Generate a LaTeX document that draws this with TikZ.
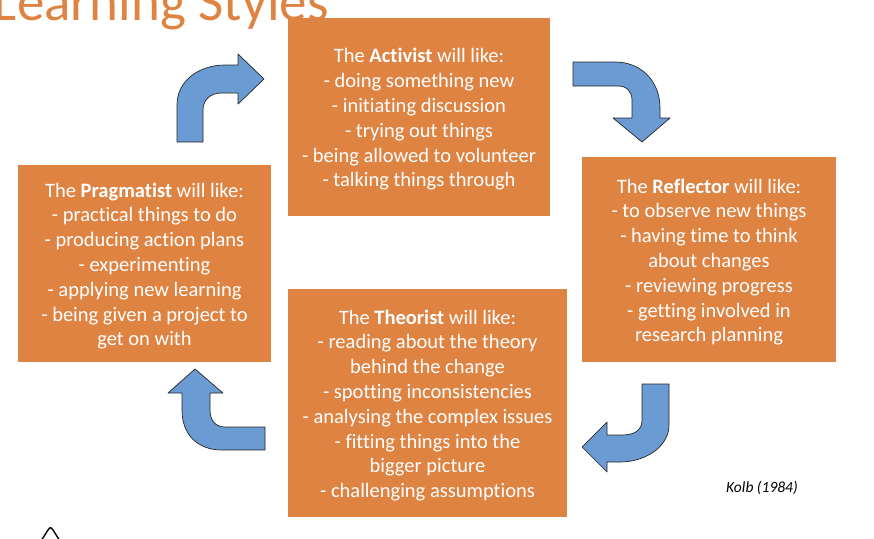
\documentclass[tikz,border=0pt]{standalone}
\usepackage{fontspec}
\setmainfont[Ligatures=NoCommon]{Carlito}
\definecolor{boxorange}{RGB}{223,131,67}
\definecolor{arrowblue}{RGB}{106,155,211}
\begin{document}
\begin{tikzpicture}[x=1pt,y=-1pt,
  box/.style={fill=boxorange, draw=none, inner sep=0pt},
  boxtext/.style={inner sep=0pt, text=white, align=center,
    font=\fontsize{20.5}{24.8}\selectfont},
  bluearrow/.style={fill=arrowblue, draw=black!85, line width=0.7pt, line join=round}]
\useasboundingbox (0,0) rectangle (874,538);
% title
\node[anchor=base east, text=boxorange, inner sep=0pt, font=\fontsize{55}{55}\selectfont] (title) at (329,20) {Learning Styles};
% boxes
\node[box, minimum width=262pt, minimum height=198pt] (act) at (419,117) {};
\node[box, minimum width=254pt, minimum height=205pt] (ref) at (709,259.5) {};
\node[box, minimum width=279pt, minimum height=228pt] (the) at (427.5,403) {};
\node[box, minimum width=253pt, minimum height=197pt] (pra) at (144.5,263.5) {};
% box texts
\node[boxtext] (actT) at ([yshift=-2.5pt]act.center)
  {The \textbf{Activist} will like:\\- doing something new\\- initiating discussion\\- trying out things\\- being allowed to volunteer\\- talking things through};
\node[boxtext] (refT) at ([yshift=-2.5pt]ref.center)
  {The \textbf{Reflector} will like:\\- to observe new things\\- having time to think\\about changes\\- reviewing progress\\- getting involved in\\research planning};
\node[boxtext] (theT) at ([yshift=-2.5pt]the.center)
  {The \textbf{Theorist} will like:\\- reading about the theory\\behind the change\\- spotting inconsistencies\\- analysing the complex issues\\- fitting things into the\\bigger picture\\- challenging assumptions};
\node[boxtext] (praT) at ([yshift=-2.5pt]pra.center)
  {The \textbf{Pragmatist} will like:\\- practical things to do\\- producing action plans\\- experimenting\\- applying new learning\\- being given a project to\\get on with};
% arrows
\path[bluearrow] (177,142) -- (177,105) .. controls (177,80) and (200,65) .. (225,65) -- (238,65) -- (238,54) -- (264,79) -- (238,104) -- (238,93) -- (222,93) .. controls (210,93) and (203,100) .. (203,110) -- (203,142) -- cycle;
\path[bluearrow] (573,62) -- (615,62) .. controls (642,62) and (660,82) .. (660,108) -- (660,118) -- (670,118) -- (642,142) -- (613,118) -- (632,118) -- (632,100) .. controls (632,92) and (627,86) .. (618,86) -- (573,86) -- cycle;
\path[bluearrow] (642,384) -- (669,384) -- (669,425) .. controls (669,447) and (645,462) .. (620,462) -- (607,462) -- (607,472) -- (582,447) -- (607,422) -- (607,435) -- (622,435) .. controls (635,435) and (642,430) .. (642,420) -- cycle;
\path[bluearrow] (265,427) -- (265,450) -- (222,450) .. controls (198,450) and (182,435) .. (182,410) -- (182,393) -- (168,393) -- (195,369) -- (223,393) -- (210,393) -- (210,410) .. controls (210,420) and (215,427) .. (225,427) -- cycle;
% citation
\node[font=\fontsize{15.5}{17}\selectfont\itshape, inner sep=0pt] (kolb) at (762,488) {Kolb (1984)};
% partial glyph at bottom
\draw[line width=1.4pt, line cap=round, line join=round] (41,541) -- (48,530) .. controls (50,527) and (51,527) .. (53,530) -- (60,541);
\end{tikzpicture}
\end{document}
